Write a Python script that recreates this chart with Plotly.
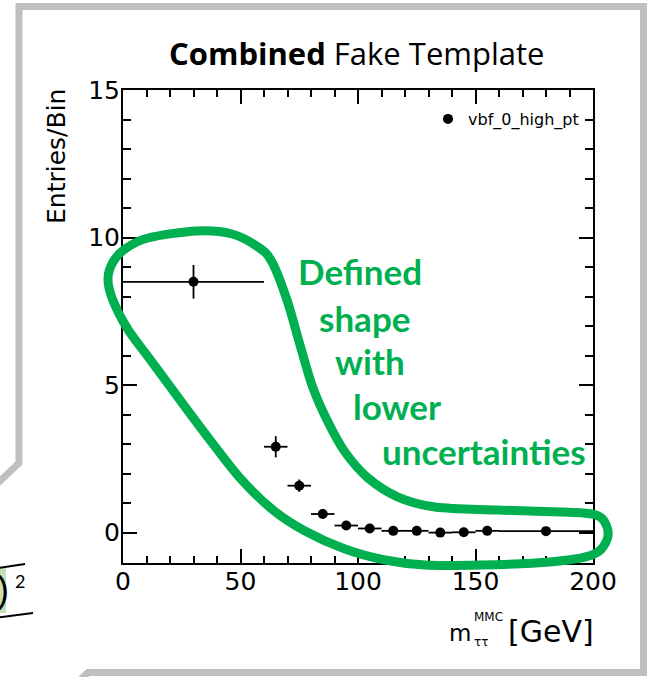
import plotly.graph_objects as go

# ---- data: fake-template histogram (bin centres, half widths, contents, errors)
bin_centers = [30, 65, 75, 85, 95, 105, 115, 125, 135, 145, 155, 180]
bin_halfwidths = [30, 5, 5, 5, 5, 5, 5, 5, 5, 5, 5, 20]
entries = [8.5, 2.91, 1.59, 0.63, 0.24, 0.14, 0.06, 0.06, 0.0, 0.01, 0.06, 0.05]
entry_errors = [0.57, 0.36, 0.21, 0.15, 0.08, 0.07, 0.05, 0.05, 0.04, 0.04, 0.05, 0.03]
series_name = "vbf_0_high_pt"

x_ticks = [0, 50, 100, 150, 200]
y_ticks = [0, 5, 10, 15]

W, H = 651, 677
L, R, T, B = 123, 593, 90, 563   # plot-area edges in pixels
SANS = "DejaVu Sans, Liberation Sans, Arial, sans-serif"


def px(x):
    return (x - L) / (R - L)


def py(y):
    return (B - y) / (B - T)


def closed_spline(points):
    """Catmull-Rom closed curve through pixel points, as an SVG path in paper units."""
    n = len(points)
    p = [(px(x), py(y)) for x, y in points]
    d = f"M {p[0][0]:.4f},{p[0][1]:.4f}"
    for i in range(n):
        p0, p1, p2, p3 = p[i - 1], p[i], p[(i + 1) % n], p[(i + 2) % n]
        c1 = (p1[0] + (p2[0] - p0[0]) / 6, p1[1] + (p2[1] - p0[1]) / 6)
        c2 = (p2[0] - (p3[0] - p1[0]) / 6, p2[1] - (p3[1] - p1[1]) / 6)
        d += f" C {c1[0]:.4f},{c1[1]:.4f} {c2[0]:.4f},{c2[1]:.4f} {p2[0]:.4f},{p2[1]:.4f}"
    return d + " Z"


def polyline(points):
    return "M " + " L ".join(f"{px(x):.4f},{py(y):.4f}" for x, y in points)


fig = go.Figure()
fig.add_trace(go.Scatter(
    x=bin_centers, y=entries, mode="markers", name=series_name,
    marker=dict(color="black", size=10),
    error_x=dict(type="data", array=bin_halfwidths, width=0, thickness=1.8, color="black"),
    error_y=dict(type="data", array=entry_errors, width=0, thickness=1.8, color="black"),
))

axis_font = dict(family=SANS, size=25, color="black")
common = dict(showgrid=False, zeroline=False, showline=True, linecolor="black", linewidth=2,
              mirror="ticks", ticks="inside", tickcolor="black", tickwidth=1.8,
              tickfont=axis_font)
fig.update_xaxes(range=[0, 200], tickvals=x_ticks, ticklen=14, ticklabelstandoff=-5,
                 minor=dict(dtick=10, ticks="inside", ticklen=7, tickwidth=1.8, tickcolor="black"),
                 **common)
fig.update_yaxes(range=[-1.03, 15], tickvals=y_ticks, ticklen=14, ticklabelstandoff=-4,
                 minor=dict(dtick=1, tick0=0, ticks="inside", ticklen=8, tickwidth=1.8, tickcolor="black"),
                 **common)

green = "#00B050"
shapes = [
    # slide frame (callout outline)
    dict(type="path", xref="paper", yref="paper",
         path=polyline([(-40, 519), (19, 463), (19, 6.5), (643.5, 6.5), (643.5, 672.5), (88, 672.5), (65, 695)]),
         line=dict(color="#BFBFBF", width=7), layer="below"),
    # highlight behind the formula fragment
    dict(type="rect", xref="paper", yref="paper", x0=px(-5), x1=px(6), y0=py(613), y1=py(568),
         fillcolor="#C5E0B4", line=dict(width=0, color="rgba(0,0,0,0)"), layer="below"),
    dict(type="line", xref="paper", yref="paper", x0=px(-2), y0=py(568), x1=px(25), y1=py(564),
         line=dict(color="black", width=2)),
    dict(type="line", xref="paper", yref="paper", x0=px(-2), y0=py(617.5), x1=px(33), y1=py(613),
         line=dict(color="black", width=2)),
]

# hand-drawn loop around the low-uncertainty region
loop = [(197, 231), (232, 234), (258, 247), (272, 262), (287, 300), (300, 345), (313, 388),
        (328, 422), (345, 452), (368, 478), (398, 497), (435, 507), (497, 510), (563, 512),
        (596, 515), (607, 527), (606, 542), (592, 555), (550, 562), (480, 565), (425, 565),
        (385, 560), (345, 549), (305, 531), (273, 510), (240, 478), (210, 440), (180, 400),
        (152, 362), (127, 328), (112, 298), (108, 278), (113, 262), (125, 249), (148, 238)]
shapes.append(dict(type="path", xref="paper", yref="paper", path=closed_spline(loop),
                   line=dict(color=green, width=9)))
fig.update_layout(shapes=shapes)


def note(text, x, y, size, family=SANS, color="black",
         xanchor="center", yanchor="middle", angle=0):
    fig.add_annotation(text=text, x=px(x), y=py(y), xref="paper", yref="paper",
                       showarrow=False, xanchor=xanchor, yanchor=yanchor, textangle=angle,
                       borderpad=0, font=dict(family=family, size=size, color=color))


note("<b>Combined</b> Fake Template", 356, 53, 31, family="Open Sans, sans-serif")
note("Entries/Bin", 56, 157, 25, angle=-90)

# x-axis title with stacked super/subscript
note("m", 448, 633, 23, xanchor="left")
note("MMC", 473, 617, 12, xanchor="left")
note("ττ", 473, 642, 12, xanchor="left")
note("[GeV]", 595, 631, 30, xanchor="right")

# green callout text
callout = ["Defined", "shape", "with", "lower", "uncertainties"]
callout_pos = [(360, 271), (364, 318), (370, 361), (397, 406), (484, 451)]
for word, (cx, cy) in zip(callout, callout_pos):
    note(f"<b>{word}</b>", cx, cy, 35, family="Lato, sans-serif", color=green)

# formula fragment at the left edge
note(")", 10, 589, 36, family="Liberation Sans, Arial, sans-serif", xanchor="right")
note("2", 20, 581, 18, family="Lato, sans-serif")

fig.update_layout(
    width=W, height=H,
    margin=dict(l=L, r=W - R, t=T, b=H - B),
    paper_bgcolor="white", plot_bgcolor="white",
    showlegend=True,
    legend=dict(x=px(428), y=py(102), xanchor="left", yanchor="top",
                bgcolor="rgba(0,0,0,0)", font=dict(family=SANS, size=16, color="black")),
)

fig.write_html("out.html")
